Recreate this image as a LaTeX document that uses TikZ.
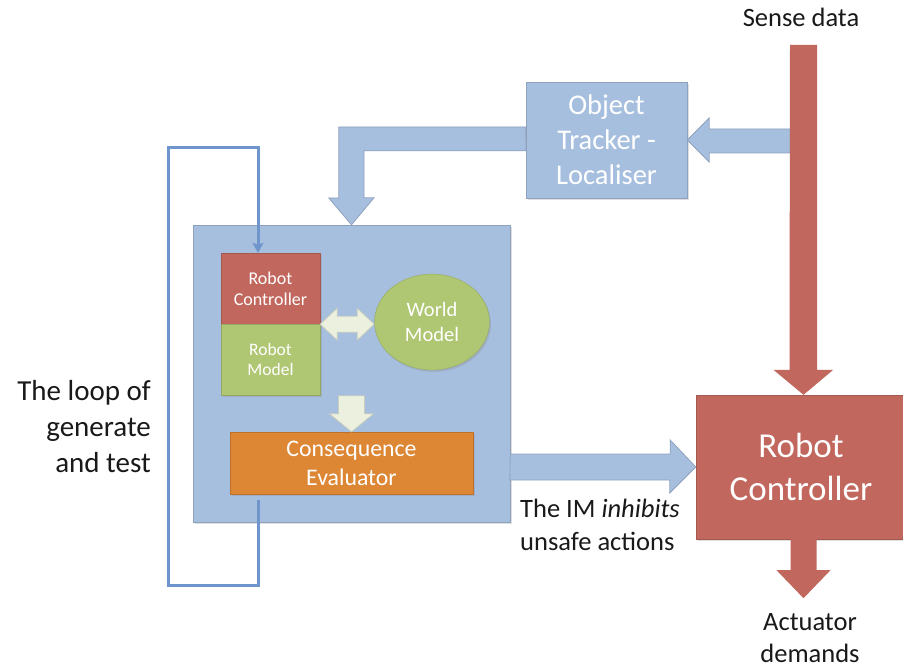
\documentclass[tikz,border=0pt]{standalone}
\usepackage{fontspec}
\setmainfont{Carlito}
\usetikzlibrary{shapes.geometric,arrows.meta,shadows}
\definecolor{imblue}{HTML}{A7BFDE}
\definecolor{ctrlred}{HTML}{C1675E}
\definecolor{modgreen}{HTML}{AFC673}
\definecolor{evalorange}{HTML}{DD8634}
\definecolor{palegreen}{HTML}{EBF1DE}
\definecolor{loopblue}{HTML}{6E95CC}

\begin{document}
\begin{tikzpicture}[x=1pt,y=-1pt]
    \tikzset{box/.style={draw=#1!85!black, fill=#1, text=white, inner sep=0pt, align=center,
            drop shadow={opacity=0.25, shadow xshift=1.5pt, shadow yshift=-2pt}},
        note/.style={inner sep=0pt, align=#1, text=black!90},
        fat/.style={fill=#1, draw=#1!85!black, line width=0.8pt},
        loopline/.style={draw=loopblue, line width=3pt, -{Stealth[length=10pt,width=11pt,inset=2pt]}}}
    \useasboundingbox[fill=white] (0,0) rectangle (903,668);

    %Boxes
    \node[box=imblue, minimum width=317, minimum height=297] (im) at (351.5,373.5) {};
    \node[box=imblue, minimum width=161, minimum height=116, font=\fontsize{28.5}{35}\selectfont] (tracker) at (606.5,140) {Object\\Tracker -\\Localiser};
    \node[box=ctrlred, minimum width=210, minimum height=144, font=\fontsize{35}{43}\selectfont] (rc) at (801,467) {Robot\\Controller};

    %Inside the IM
    \node[box=ctrlred, minimum width=99, minimum height=71, font=\fontsize{18}{21}\selectfont] (rcs) at (270.5,288.5) {Robot\\Controller};
    \node[box=modgreen, minimum width=99, minimum height=71, font=\fontsize{17.5}{20}\selectfont] (rms) at (270.5,359.5) {Robot\\Model};
    \node[box=modgreen, ellipse, minimum width=115, minimum height=96, font=\fontsize{20.5}{25}\selectfont] (world) at (432,322) {World\\Model};
    \node[box=evalorange, minimum width=243, minimum height=62, font=\fontsize{23.8}{29}\selectfont] (ce) at (351.5,463) {Consequence\\Evaluator};

    %Labels
    \node[note=center, font=\fontsize{26.5}{32}\selectfont, anchor=base] (sense) at (801,27) {Sense data};
    \node[note=center, font=\fontsize{26.5}{32}\selectfont, anchor=base] (act) at (810,662) {Actuator\\demands};
    \node[note=left, font=\fontsize{26.5}{33}\selectfont, anchor=base west] (imtxt) at (520,550) {The IM \textit{inhibits}\\unsafe actions};
    \node[note=right, font=\fontsize{29}{36}\selectfont, anchor=base east] (looptxt) at (151,472) {The loop of\\generate\\and test};

    %Blue arrows
    \coordinate (sensein) at (803.5,45);
    \draw[fat=imblue] (tracker.east) -- ++(22,-22) -- ++(0,11) -- ++(81,0) -- ++(0,24) -- ++(-81,0) -- ++(0,9) -- cycle;
    \draw[fat=imblue] (tracker.west) ++(0,-13) -- ++(-187,0) -- ++(0,71) -- ++(-10,0) -- (im.north)
        -- ++(22.5,-27) -- ++(-10,0) -- ++(0,-47) -- ++(162,0) -- cycle;
    \draw[fat=imblue] (im.east |- rc.west) ++(0,-13) -- ++(160,0) -- ++(0,-14) -- (rc.west)
        -- ++(-26,26) -- ++(0,-13) -- ++(-160,0) -- cycle;

    %Red arrows
    \fill[ctrlred] (sensein) ++(-13.5,0) -- ++(27,0) -- ++(0,325) -- ++(16,0) -- (rc.north -| sensein)
        -- ++(-30,-25) -- ++(16,0) -- cycle;
    \fill[ctrlred] (rc.south -| sensein) ++(-13,0) -- ++(0,31) -- ++(-14,0) -- ++(27,28) -- ++(27,-28)
        -- ++(-14,0) -- ++(0,-31) -- cycle;

    %Green arrows
    \draw[fat=palegreen] (ce.north) -- ++(-22,-18) -- ++(9,0) -- ++(0,-18) -- ++(26,0) -- ++(0,18) -- ++(9,0) -- cycle;
    \draw[fat=palegreen] (rcs.south east) -- ++(17,-16) -- ++(0,8) -- ++(20,0) -- ++(0,-8) -- ++(17,16)
        -- ++(-17,16) -- ++(0,-8) -- ++(-20,0) -- ++(0,8) -- cycle;

    %Loop of generate and test
    \coordinate (loopstart) at (258,500);
    \draw[loopline] (loopstart) -- ++(0,85) -| (168,148) -| (rcs.north -| loopstart);

\end{tikzpicture}
\end{document}
